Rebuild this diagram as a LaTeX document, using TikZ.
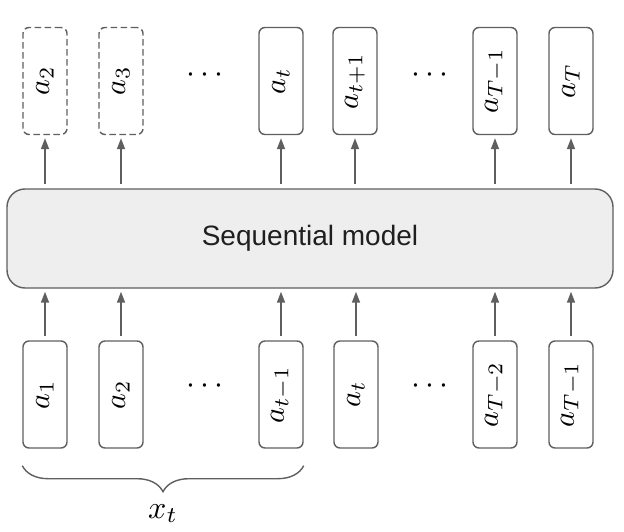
\documentclass[tikz,border=0pt]{standalone}
\usepackage{fontspec}
\newfontfamily\sansfont{Liberation Sans}
\usetikzlibrary{arrows.meta,decorations.pathreplacing}
\definecolor{edge}{RGB}{95,95,95}
\definecolor{modelfill}{RGB}{238,238,238}
\newcommand{\toklab}[1]{\rotatebox{90}{\scalebox{3}{$#1$}}}
\newcommand{\bigmath}[1]{\scalebox{3.2}{$#1$}}
\tikzset{
  tok/.style={draw=edge, line width=1.4pt, rounded corners=6pt, minimum width=44pt, minimum height=107pt, inner sep=0pt, font=\fontsize{10}{12}\selectfont},
  ghost/.style={tok, dashed, dash pattern=on 6.5pt off 3.5pt},
  flow/.style={draw=edge, line width=1.6pt, -{Triangle[length=11pt,width=8pt]}, shorten >=3pt, shorten <=4pt},
  dotsnode/.style={inner sep=0pt, font=\fontsize{10}{12}\selectfont},
}
\begin{document}
\begin{tikzpicture}[x=1pt,y=-1pt]
\useasboundingbox (0,0) rectangle (624,532);
% model
\node[draw=edge, line width=1.4pt, fill=modelfill, rounded corners=18pt, minimum width=606pt, minimum height=99pt, inner sep=0pt, font=\sansfont\fontsize{28}{32}\selectfont, text=black!88] (model) at (310,238.5) {Sequential model};
% top outputs
\node[ghost] (o2) at (45,81) {\toklab{a_2}};
\node[ghost] (o3) at (121,81) {\toklab{a_3}};
\node[dotsnode] (dtop1) at (205,75) {\bigmath{\cdots}};
\node[tok] (ot) at (281,81) {\toklab{a_t}};
\node[tok] (ot1) at (355,81) {\toklab{a_{t+1}}};
\node[dotsnode] (dtop2) at (430,75) {\bigmath{\cdots}};
\node[tok] (oT1) at (495,81) {\toklab{a_{T-1}}};
\node[tok] (oT) at (571,81) {\toklab{a_T}};
% bottom inputs
\node[tok] (i1) at (45,394.5) {\toklab{a_1}};
\node[tok] (i2) at (121,394.5) {\toklab{a_2}};
\node[dotsnode] (dbot1) at (205,386) {\bigmath{\cdots}};
\node[tok] (it1) at (281,394.5) {\toklab{a_{t-1}}};
\node[tok] (it) at (356,394.5) {\toklab{a_t}};
\node[dotsnode] (dbot2) at (430,386) {\bigmath{\cdots}};
\node[tok] (iT2) at (495,394.5) {\toklab{a_{T-2}}};
\node[tok] (iT1) at (571,394.5) {\toklab{a_{T-1}}};
% arrows up from model
\foreach \n in {o2,o3,ot,ot1,oT1,oT}
  \draw[flow] (\n.south |- model.north) -- (\n.south);
\foreach \n in {i1,i2,it1,it,iT2,iT1}
  \draw[flow] (\n.north) -- (\n.north |- model.south);
% brace
\coordinate (bl) at (i1.south west);
\coordinate (br) at (it1.south east);
\draw[draw=edge, line width=1.4pt, decorate, decoration={brace, amplitude=26pt, mirror}] ([yshift=-17pt]bl) -- ([yshift=-17pt]br) node[midway, below=38pt, inner sep=0pt, font=\fontsize{10}{12}\selectfont] (xt) {\bigmath{x_t}};
\end{tikzpicture}
\end{document}
